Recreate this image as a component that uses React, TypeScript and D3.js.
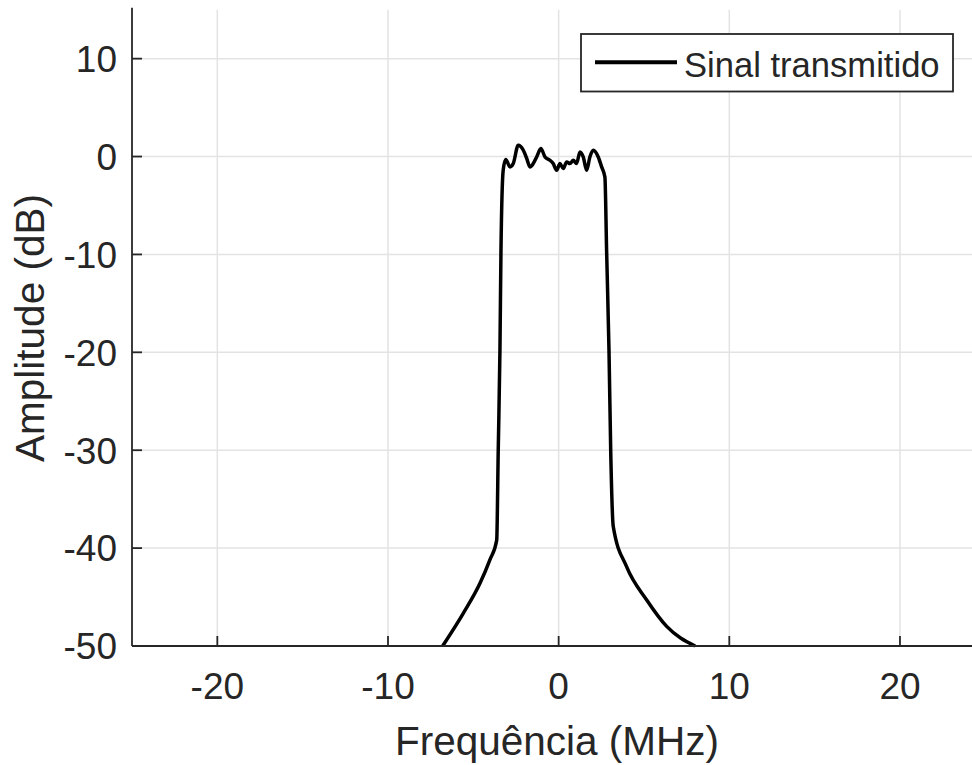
import React from "react";
import * as d3 from "d3";

const freqMHz = [
  -6.8, -5.59, -4.61, -4.03, -3.63, -3.54, -3.44, -3.38, -3.25, -3.1,
  -2.85, -2.66, -2.37, -2.07, -1.87, -1.68, -1.49, -1.29, -1.04, -0.8,
  -0.51, -0.32, -0.12, 0.08, 0.27, 0.47, 0.66, 0.86, 1.05, 1.25,
  1.44, 1.64, 1.83, 2.03, 2.32, 2.52, 2.71, 2.81, 2.95, 3.05,
  3.2, 3.98, 5.16, 6.33, 8.0,
];
const amplitudeDb = [
  -50, -46.66, -43.6, -41.2, -39.2, -30, -19.8, -9.6, -1.4, -0.3,
  -1.06, -0.72, 1.15, 0.64, -0.2, -1.06, -0.72, -0.04, 0.81, -0.04,
  -0.38, -0.72, -1.4, -0.72, -1.23, -0.55, -0.72, -0.38, -0.72, 0.47,
  -0.04, -1.4, -0.04, 0.64, -0.04, -1.06, -2.1, -9.6, -19.8, -30,
  -37.8, -41.9, -45.3, -48.0, -50,
];
const xTicks = [-20, -10, 0, 10, 20];
const yTicks = [-50, -40, -30, -20, -10, 0, 10];
const xLabel = "Frequência (MHz)";
const yLabel = "Amplitude (dB)";
const legendLabel = "Sinal transmitido";

const W = 972;
const H = 765;
const FONT = "'Liberation Sans', Arial, Helvetica, sans-serif";
const AX = "#262626";

export default function App() {
  const x = d3.scaleLinear().domain([-25, 25]).range([132, 985.3]);
  const y = d3.scaleLinear().domain([-50, 15]).range([646, 9.7]);
  const pts: [number, number][] = freqMHz.map((f, i) => [f, amplitudeDb[i]]);
  const line = d3
    .line<[number, number]>()
    .x((d) => x(d[0]))
    .y((d) => y(d[1]))
    .curve(d3.curveMonotoneX);

  return (
    <svg
      width={W}
      height={H}
      style={{ position: "absolute", left: 0, top: 0, background: "#fff" }}
      fontFamily={FONT}
    >
      <rect x={0} y={0} width={W} height={H} fill="#fff" />
      {/* grid */}
      {xTicks.map((t) => (
        <line key={"gx" + t} x1={x(t)} x2={x(t)} y1={y(15)} y2={y(-50)} stroke="#e3e3e3" strokeWidth={1.5} />
      ))}
      {yTicks.map((t) => (
        <line key={"gy" + t} x1={x(-25)} x2={x(25)} y1={y(t)} y2={y(t)} stroke="#e3e3e3" strokeWidth={1.5} />
      ))}
      {/* data */}
      <path d={line(pts) || ""} fill="none" stroke="#000" strokeWidth={3.5} strokeLinejoin="round" />
      {/* axes */}
      <line x1={x(-25)} x2={x(-25)} y1={y(15) - 2} y2={y(-50)} stroke={AX} strokeWidth={1.8} />
      <line x1={x(-25)} x2={x(25)} y1={y(-50)} y2={y(-50)} stroke={AX} strokeWidth={1.8} />
      {xTicks.map((t) => (
        <g key={"xt" + t}>
          <line x1={x(t)} x2={x(t)} y1={y(-50)} y2={y(-50) - 10} stroke={AX} strokeWidth={1.8} />
          <text x={x(t)} y={699} textAnchor="middle" fontSize={37} fill={AX}>
            {t}
          </text>
        </g>
      ))}
      {yTicks.map((t) => (
        <g key={"yt" + t}>
          <line x1={x(-25)} x2={x(-25) + 10} y1={y(t)} y2={y(t)} stroke={AX} strokeWidth={1.8} />
          <text x={117} y={y(t)} dy="0.36em" textAnchor="end" fontSize={37} fill={AX}>
            {t}
          </text>
        </g>
      ))}
      <text x={557} y={755} textAnchor="middle" fontSize={40.5} fill={AX}>
        {xLabel}
      </text>
      <text transform="translate(44,328) rotate(-90)" textAnchor="middle" fontSize={40.5} fill={AX}>
        {yLabel}
      </text>
      {/* legend */}
      <rect x={581} y={34} width={372} height={57.5} fill="#fff" stroke={AX} strokeWidth={1.8} />
      <line x1={595} x2={677} y1={62.3} y2={62.3} stroke="#000" strokeWidth={4} />
      <text x={684} y={77} fontSize={34.6} fill={AX}>
        {legendLabel}
      </text>
    </svg>
  );
}
